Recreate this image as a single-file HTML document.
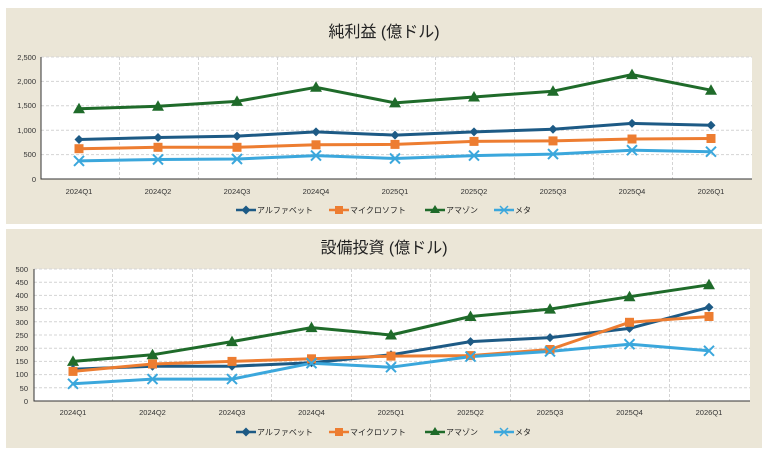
<!DOCTYPE html>
<html><head><meta charset="utf-8"><style>
body{margin:0;background:#fff;}
svg{display:block;font-family:"Liberation Sans","Noto Sans CJK JP",sans-serif;}
</style></head><body>
<svg width="768" height="457" viewBox="0 0 768 457" xmlns="http://www.w3.org/2000/svg">
<defs>
<g id="d"><path d="M0,-4.5 L4.5,0 L0,4.5 L-4.5,0Z" fill="#1d5a85"/></g>
<g id="s"><rect x="-4.5" y="-4.5" width="9" height="9" fill="#ed7d31"/></g>
<g id="t"><path d="M0,-6 L6,4.5 L-6,4.5Z" fill="#1f6b2a"/></g>
<g id="x"><path d="M-5,-5 L5,5 M-5,5 L5,-5" stroke="#3ba7dc" stroke-width="2"/></g>
</defs>
<rect width="768" height="457" fill="#fff"/>
<rect x="6" y="8" width="756" height="216" fill="#ebe6d7"/>
<rect x="6" y="229" width="756" height="219" fill="#ebe6d7"/>
<!-- chart1 -->
<text x="384" y="37" font-size="16" text-anchor="middle" fill="#222">純利益 (億ドル)</text>
<rect x="41" y="57" width="711" height="122" fill="#fff"/>
<g stroke="#d4d4d4" stroke-dasharray="3,2" stroke-width="1">
<line x1="41" y1="57" x2="752" y2="57"/><line x1="41" y1="81.4" x2="752" y2="81.4"/><line x1="41" y1="105.8" x2="752" y2="105.8"/><line x1="41" y1="130.2" x2="752" y2="130.2"/><line x1="41" y1="154.6" x2="752" y2="154.6"/>
<line x1="119.5" y1="57" x2="119.5" y2="179"/><line x1="198.5" y1="57" x2="198.5" y2="179"/><line x1="277.5" y1="57" x2="277.5" y2="179"/><line x1="356.5" y1="57" x2="356.5" y2="179"/><line x1="435.5" y1="57" x2="435.5" y2="179"/><line x1="514.5" y1="57" x2="514.5" y2="179"/><line x1="593.5" y1="57" x2="593.5" y2="179"/><line x1="672.5" y1="57" x2="672.5" y2="179"/>
</g>
<path d="M41,57V179H752" fill="none" stroke="#333" stroke-width="1"/>
<g font-size="7.5" fill="#333" text-anchor="end">
<text x="36" y="60">2,500</text><text x="36" y="84">2,000</text><text x="36" y="108">1,500</text><text x="36" y="133">1,000</text><text x="36" y="157">500</text><text x="36" y="182">0</text>
</g>
<g font-size="7.5" fill="#333" text-anchor="middle">
<text x="79" y="194">2024Q1</text><text x="158" y="194">2024Q2</text><text x="237" y="194">2024Q3</text><text x="316" y="194">2024Q4</text><text x="395" y="194">2025Q1</text><text x="474" y="194">2025Q2</text><text x="553" y="194">2025Q3</text><text x="632" y="194">2025Q4</text><text x="711" y="194">2026Q1</text>
</g>
<g fill="none" stroke-width="3" stroke-linejoin="round">
<polyline stroke="#1f6b2a" points="79,108.7 158,106.3 237,101.4 316,87.3 395,102.9 474,97 553,91.2 632,74.6 711,90.2"/>
<polyline stroke="#1d5a85" points="79,139.5 158,137.5 237,136.1 316,131.9 395,135.1 474,131.9 553,129.2 632,123.4 711,125.3"/>
<polyline stroke="#ed7d31" points="79,148.7 158,147.3 237,147.3 316,144.8 395,144.4 474,141.4 553,140.9 632,139 711,138.5"/>
<polyline stroke="#3ba7dc" points="79,160.9 158,159.5 237,159 316,155.6 395,158.5 474,155.6 553,154.1 632,150.2 711,151.7"/>
</g>
<use href="#t" x="79" y="108.7"/><use href="#t" x="158" y="106.3"/><use href="#t" x="237" y="101.4"/><use href="#t" x="316" y="87.3"/><use href="#t" x="395" y="102.9"/><use href="#t" x="474" y="97"/><use href="#t" x="553" y="91.2"/><use href="#t" x="632" y="74.6"/><use href="#t" x="711" y="90.2"/>
<use href="#d" x="79" y="139.5"/><use href="#d" x="158" y="137.5"/><use href="#d" x="237" y="136.1"/><use href="#d" x="316" y="131.9"/><use href="#d" x="395" y="135.1"/><use href="#d" x="474" y="131.9"/><use href="#d" x="553" y="129.2"/><use href="#d" x="632" y="123.4"/><use href="#d" x="711" y="125.3"/>
<use href="#s" x="79" y="148.7"/><use href="#s" x="158" y="147.3"/><use href="#s" x="237" y="147.3"/><use href="#s" x="316" y="144.8"/><use href="#s" x="395" y="144.4"/><use href="#s" x="474" y="141.4"/><use href="#s" x="553" y="140.9"/><use href="#s" x="632" y="139"/><use href="#s" x="711" y="138.5"/>
<use href="#x" x="79" y="160.9"/><use href="#x" x="158" y="159.5"/><use href="#x" x="237" y="159"/><use href="#x" x="316" y="155.6"/><use href="#x" x="395" y="158.5"/><use href="#x" x="474" y="155.6"/><use href="#x" x="553" y="154.1"/><use href="#x" x="632" y="150.2"/><use href="#x" x="711" y="151.7"/>
<!-- legend1 -->
<g font-size="8" fill="#222">
<line x1="236" y1="210" x2="256" y2="210" stroke="#1d5a85" stroke-width="2.5"/><use href="#d" x="246" y="210" transform=""/><text x="257" y="213">アルファベット</text>
<line x1="329" y1="210" x2="349" y2="210" stroke="#ed7d31" stroke-width="2.5"/><rect x="335" y="206" width="8" height="8" fill="#ed7d31"/><text x="350" y="213">マイクロソフト</text>
<line x1="425" y1="210" x2="445" y2="210" stroke="#1f6b2a" stroke-width="2.5"/><path d="M435,205 L440,213 L430,213Z" fill="#1f6b2a"/><text x="446" y="213">アマゾン</text>
<line x1="494" y1="210" x2="514" y2="210" stroke="#3ba7dc" stroke-width="2.5"/><path d="M500,206L508,214M500,214L508,206" stroke="#3ba7dc" stroke-width="1.5"/><text x="515" y="213">メタ</text>
</g>
<!-- chart2 -->
<text x="384" y="253" font-size="16" text-anchor="middle" fill="#222">設備投資 (億ドル)</text>
<rect x="34" y="269" width="716" height="132" fill="#fff"/>
<g stroke="#d4d4d4" stroke-dasharray="3,2" stroke-width="1">
<line x1="34" y1="269" x2="750" y2="269"/><line x1="34" y1="282.2" x2="750" y2="282.2"/><line x1="34" y1="295.4" x2="750" y2="295.4"/><line x1="34" y1="308.6" x2="750" y2="308.6"/><line x1="34" y1="321.8" x2="750" y2="321.8"/><line x1="34" y1="335" x2="750" y2="335"/><line x1="34" y1="348.2" x2="750" y2="348.2"/><line x1="34" y1="361.4" x2="750" y2="361.4"/><line x1="34" y1="374.6" x2="750" y2="374.6"/><line x1="34" y1="387.8" x2="750" y2="387.8"/>
<line x1="112.5" y1="269" x2="112.5" y2="401"/><line x1="192.5" y1="269" x2="192.5" y2="401"/><line x1="271.5" y1="269" x2="271.5" y2="401"/><line x1="351.5" y1="269" x2="351.5" y2="401"/><line x1="430.5" y1="269" x2="430.5" y2="401"/><line x1="510.5" y1="269" x2="510.5" y2="401"/><line x1="589.5" y1="269" x2="589.5" y2="401"/><line x1="669.5" y1="269" x2="669.5" y2="401"/>
</g>
<path d="M34,269V401H750" fill="none" stroke="#333" stroke-width="1"/>
<g font-size="7.5" fill="#333" text-anchor="end">
<text x="28" y="272">500</text><text x="28" y="285">450</text><text x="28" y="298">400</text><text x="28" y="311">350</text><text x="28" y="325">300</text><text x="28" y="338">250</text><text x="28" y="351">200</text><text x="28" y="364">150</text><text x="28" y="377">100</text><text x="28" y="391">50</text><text x="28" y="404">0</text>
</g>
<g font-size="7.5" fill="#333" text-anchor="middle">
<text x="73" y="415">2024Q1</text><text x="152.5" y="415">2024Q2</text><text x="232" y="415">2024Q3</text><text x="311.5" y="415">2024Q4</text><text x="391" y="415">2025Q1</text><text x="470.5" y="415">2025Q2</text><text x="550" y="415">2025Q3</text><text x="629.5" y="415">2025Q4</text><text x="709" y="415">2026Q1</text>
</g>
<g fill="none" stroke-width="3" stroke-linejoin="round">
<polyline stroke="#1f6b2a" points="73,361.4 152.5,354.8 232,341.6 311.5,327.6 391,335 470.5,316.5 550,309.1 629.5,296.7 709,284.8"/>
<polyline stroke="#1d5a85" points="73,369.3 152.5,366.2 232,366.2 311.5,362.7 391,354.8 470.5,341.6 550,337.6 629.5,328.4 709,307.3"/>
<polyline stroke="#ed7d31" points="73,371.4 152.5,364 232,361.4 311.5,358.8 391,356.1 470.5,355.6 550,349.5 629.5,322.3 709,316.5"/>
<polyline stroke="#3ba7dc" points="73,383.8 152.5,379.1 232,379.1 311.5,363.2 391,367.2 470.5,356.6 550,351.4 629.5,344.2 709,350.8"/>
</g>
<use href="#t" x="73" y="361.4"/><use href="#t" x="152.5" y="354.8"/><use href="#t" x="232" y="341.6"/><use href="#t" x="311.5" y="327.6"/><use href="#t" x="391" y="335"/><use href="#t" x="470.5" y="316.5"/><use href="#t" x="550" y="309.1"/><use href="#t" x="629.5" y="296.7"/><use href="#t" x="709" y="284.8"/>
<use href="#d" x="73" y="369.3"/><use href="#d" x="152.5" y="366.2"/><use href="#d" x="232" y="366.2"/><use href="#d" x="311.5" y="362.7"/><use href="#d" x="391" y="354.8"/><use href="#d" x="470.5" y="341.6"/><use href="#d" x="550" y="337.6"/><use href="#d" x="629.5" y="328.4"/><use href="#d" x="709" y="307.3"/>
<use href="#s" x="73" y="371.4"/><use href="#s" x="152.5" y="364"/><use href="#s" x="232" y="361.4"/><use href="#s" x="311.5" y="358.8"/><use href="#s" x="391" y="356.1"/><use href="#s" x="470.5" y="355.6"/><use href="#s" x="550" y="349.5"/><use href="#s" x="629.5" y="322.3"/><use href="#s" x="709" y="316.5"/>
<use href="#x" x="73" y="383.8"/><use href="#x" x="152.5" y="379.1"/><use href="#x" x="232" y="379.1"/><use href="#x" x="311.5" y="363.2"/><use href="#x" x="391" y="367.2"/><use href="#x" x="470.5" y="356.6"/><use href="#x" x="550" y="351.4"/><use href="#x" x="629.5" y="344.2"/><use href="#x" x="709" y="350.8"/>
<g font-size="8" fill="#222">
<line x1="236" y1="432" x2="256" y2="432" stroke="#1d5a85" stroke-width="2.5"/><use href="#d" x="246" y="432"/><text x="257" y="435">アルファベット</text>
<line x1="329" y1="432" x2="349" y2="432" stroke="#ed7d31" stroke-width="2.5"/><rect x="335" y="428" width="8" height="8" fill="#ed7d31"/><text x="350" y="435">マイクロソフト</text>
<line x1="425" y1="432" x2="445" y2="432" stroke="#1f6b2a" stroke-width="2.5"/><path d="M435,427 L440,435 L430,435Z" fill="#1f6b2a"/><text x="446" y="435">アマゾン</text>
<line x1="494" y1="432" x2="514" y2="432" stroke="#3ba7dc" stroke-width="2.5"/><path d="M500,428L508,436M500,436L508,428" stroke="#3ba7dc" stroke-width="1.5"/><text x="515" y="435">メタ</text>
</g>
</svg>
</body></html>
